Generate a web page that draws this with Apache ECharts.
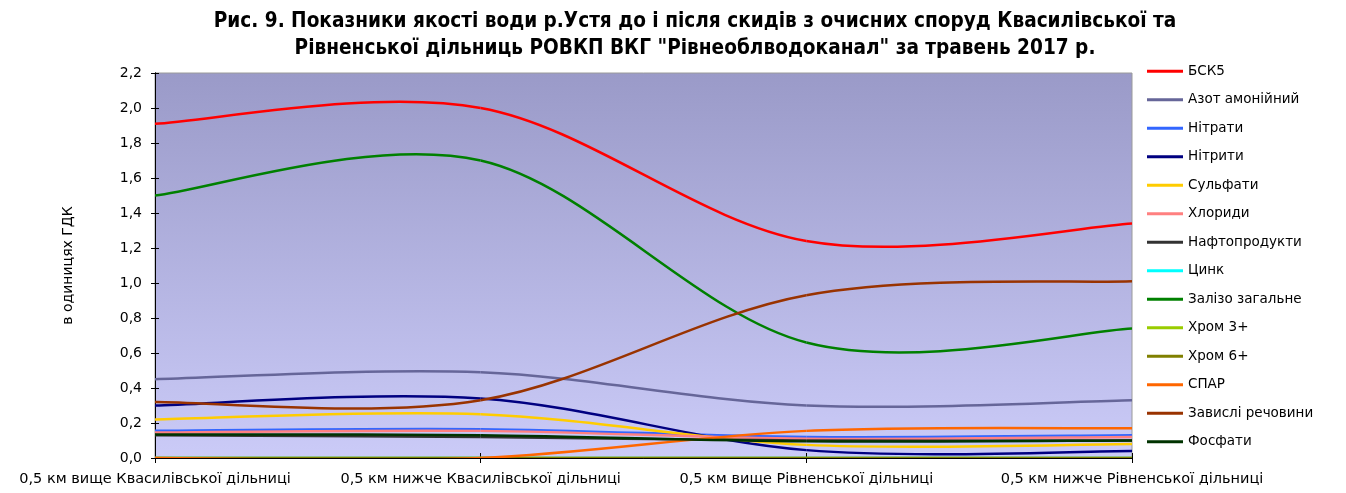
<!DOCTYPE html>
<html>
<head>
<meta charset="utf-8">
<script src="https://cdn.jsdelivr.net/npm/echarts@6/dist/echarts.min.js"></script>
<style>
  html, body { margin: 0; padding: 0; background: #fff; }
  #chart { width: 1346px; height: 493px; }
</style>
</head>
<body>
<div id="chart"></div>
<script>
// Sampling points along the river
const categories = [
  '0,5 км вище Квасилівської дільниці',
  '0,5 км нижче Квасилівської дільниці',
  '0,5 км вище Рівненської дільниці',
  '0,5 км нижче Рівненської дільниці'
];

// Indicator values, in units of MPC (ГДК)
const bsk5        = [1.91, 2.00, 1.24, 1.34];
const azot        = [0.45, 0.49, 0.30, 0.33];
const nitraty     = [0.155, 0.165, 0.12, 0.13];
const nitryty     = [0.30, 0.34, 0.045, 0.04];
const sulfaty     = [0.22, 0.25, 0.075, 0.08];
const khlorydy    = [0.145, 0.155, 0.11, 0.12];
const naftoprod   = [0.13, 0.12, 0.10, 0.10];
const tsynk       = [0, 0, 0, 0];
const zalizo      = [1.50, 1.70, 0.66, 0.74];
const khrom3      = [0, 0, 0, 0];
const khrom6      = [0, 0, 0, 0];
const spar        = [0, 0, 0.155, 0.17];
const zavysli     = [0.32, 0.33, 0.93, 1.01];
const fosfaty     = [0.135, 0.13, 0.095, 0.10];

const yTicks = [0, 0.2, 0.4, 0.6, 0.8, 1.0, 1.2, 1.4, 1.6, 1.8, 2.0, 2.2];

const seriesDefs = [
  ['БСК5', bsk5, '#FF0000'],
  ['Азот амонійний', azot, '#666699'],
  ['Нітрати', nitraty, '#3366FF'],
  ['Нітрити', nitryty, '#000080'],
  ['Сульфати', sulfaty, '#FFCC00'],
  ['Хлориди', khlorydy, '#FF8080'],
  ['Нафтопродукти', naftoprod, '#333333'],
  ['Цинк', tsynk, '#00FFFF'],
  ['Залізо загальне', zalizo, '#008000'],
  ['Хром 3+', khrom3, '#99CC00'],
  ['Хром 6+', khrom6, '#808000'],
  ['СПАР', spar, '#FF6600'],
  ['Завислі речовини', zavysli, '#993300'],
  ['Фосфати', fosfaty, '#003300']
];

const FONT = "'DejaVu Sans', Verdana, sans-serif";

// Smoothed line through the category points (cubic Bezier segments,
// tangent at each point = (next - prev) / 6, like spreadsheet smoothing).
function smoothRenderer(values, color) {
  return function (params, api) {
    if (params.dataIndex !== 0) return null;
    const p = values.map((v, i) => api.coord([i, v]));
    const n = p.length;
    const children = [];
    for (let i = 0; i < n - 1; i++) {
      const p0 = p[Math.max(i - 1, 0)];
      const p1 = p[i];
      const p2 = p[i + 1];
      const p3 = p[Math.min(i + 2, n - 1)];
      children.push({
        type: 'bezierCurve',
        shape: {
          x1: p1[0], y1: p1[1],
          cpx1: p1[0] + (p2[0] - p0[0]) / 6, cpy1: p1[1] + (p2[1] - p0[1]) / 6,
          cpx2: p2[0] - (p3[0] - p1[0]) / 6, cpy2: p2[1] - (p3[1] - p1[1]) / 6,
          x2: p2[0], y2: p2[1]
        },
        style: { stroke: color, lineWidth: 2.5, fill: null }
      });
    }
    return { type: 'group', children };
  };
}

const chart = echarts.init(document.getElementById('chart'), null, { renderer: 'canvas' });

const yAxisBase = {
  type: 'value',
  min: 0,
  max: 2.2,
  interval: 0.2,
  splitLine: { show: false },
  axisLine: { show: true, lineStyle: { color: '#000', width: 1 } },
  axisTick: { show: true, length: 4, lineStyle: { color: '#000' } }
};

const xAxisBase = {
  type: 'category',
  data: categories,
  boundaryGap: false,
  axisLine: { show: true, onZero: false, lineStyle: { color: '#000', width: 1 } },
  axisTick: { show: true, length: 5, alignWithLabel: true, lineStyle: { color: '#000' } },
  splitLine: { show: false }
};

chart.setOption({
  animation: false,
  backgroundColor: '#ffffff',
  title: {
    text: 'Рис. 9. Показники якості води р.Устя до і після скидів з очисних споруд Квасилівської та\nРівненської дільниць РОВКП ВКГ "Рівнеоблводоканал" за травень 2017 р.',
    left: 690,
    top: 3,
    textAlign: 'center',
    textStyle: {
      fontFamily: "'DejaVu Sans Condensed', 'DejaVu Sans', sans-serif",
      fontSize: 20.6,
      fontWeight: 'bold',
      lineHeight: 27,
      color: '#000'
    }
  },
  legend: {
    orient: 'vertical',
    left: 1142,
    top: 59,
    itemWidth: 36,
    itemHeight: 3,
    itemGap: 14,
    icon: 'rect',
    textStyle: { fontFamily: FONT, fontSize: 13.5, color: '#000', lineHeight: 14.5 },
    data: seriesDefs.map(d => d[0])
  },
  grid: {
    left: 155,
    right: 214,
    top: 73,
    bottom: 35,
    show: true,
    borderColor: '#9a9a9a',
    borderWidth: 1,
    backgroundColor: new echarts.graphic.LinearGradient(0, 0, 0, 1, [
      { offset: 0, color: '#9A9AC8' },
      { offset: 1, color: '#CBCBF8' }
    ])
  },
  xAxis: [
    Object.assign({}, xAxisBase, {
      axisLabel: {
        fontFamily: FONT, fontSize: 14.5, color: '#000', margin: 14,
        interval: 0, showMinLabel: true, showMaxLabel: true
      }
    }),
    Object.assign({}, xAxisBase, {
      position: 'bottom',
      axisTick: { show: true, inside: true, length: 5, lineStyle: { color: '#000' } },
      axisLabel: { show: false }
    })
  ],
  yAxis: [
    Object.assign({}, yAxisBase, {
      name: 'в одиницях ГДК',
      nameLocation: 'middle',
      nameGap: 80,
      nameRotate: 90,
      nameTextStyle: { fontFamily: FONT, fontSize: 14, color: '#000' },
      axisLabel: {
        fontFamily: FONT, fontSize: 14, color: '#000', margin: 13,
        formatter: v => yTicks.includes(+v.toFixed(1)) ? v.toFixed(1).replace('.', ',') : ''
      }
    }),
    Object.assign({}, yAxisBase, {
      position: 'left',
      axisTick: { show: true, inside: true, length: 4, lineStyle: { color: '#000' } },
      axisLabel: { show: false }
    })
  ],
  series: seriesDefs.map(([name, values, color]) => ({
    name,
    type: 'custom',
    coordinateSystem: 'cartesian2d',
    clip: true,
    itemStyle: { color },
    encode: { x: 0, y: 1 },
    data: values.map((v, i) => [i, v]),
    renderItem: smoothRenderer(values, color)
  }))
});
</script>
</body>
</html>
